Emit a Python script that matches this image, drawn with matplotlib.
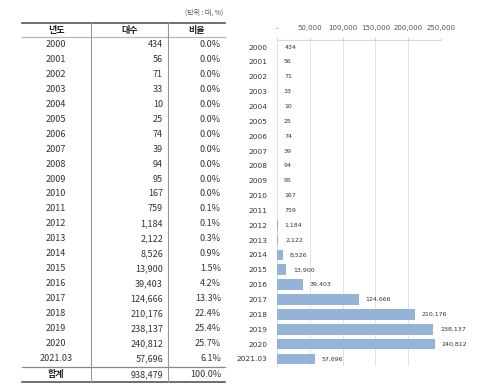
import matplotlib.pyplot as plt
from matplotlib.ticker import FuncFormatter

plt.rcParams['font.family'] = ['Noto Sans CJK KR', 'DejaVu Sans']

years = ['2000', '2001', '2002', '2003', '2004', '2005', '2006', '2007', '2008',
         '2009', '2010', '2011', '2012', '2013', '2014', '2015', '2016', '2017',
         '2018', '2019', '2020', '2021.03']
counts = [434, 56, 71, 33, 10, 25, 74, 39, 94, 95, 167, 759, 1184, 2122, 8526,
          13900, 39403, 124666, 210176, 238137, 240812, 57696]
shares = [0.0, 0.0, 0.0, 0.0, 0.0, 0.0, 0.0, 0.0, 0.0, 0.0, 0.0, 0.1, 0.1, 0.3,
          0.9, 1.5, 4.2, 13.3, 22.4, 25.4, 25.7, 6.1]
headers = ['년도', '대수', '비율']
total_label = '합계'
total_count = 938479
total_share = 100.0
xticks = [0, 50000, 100000, 150000, 200000, 250000]

W, H = 479, 391
fig = plt.figure(figsize=(W / 100, H / 100), dpi=100)

# ---- table (pixel coords) ----
tb = fig.add_axes([0, 0, 1, 1])
tb.set_xlim(0, W)
tb.set_ylim(H, 0)
tb.set_axis_off()

x_left, x_right = 22, 225
sep1, sep2 = 91, 168
x_year, x_cnt, x_pct = 56, 163, 221
y_top, y_head_line, y_tot_line, y_bot = 23, 37, 367, 382
row0, dy = 44.5, 14.95
fs = 6.5
tc = '#333333'

tb.text(223, 13, '(단위 : 대, %)', fontsize=5, color='#555555', ha='right', va='center')
tb.plot([x_left, x_right], [y_top, y_top], color='#555555', lw=1.2)
tb.plot([x_left, x_right], [y_head_line, y_head_line], color='#b8b8b8', lw=0.9)
tb.plot([x_left, x_right], [y_tot_line, y_tot_line], color='#888888', lw=0.9)
tb.plot([x_left, x_right], [y_bot, y_bot], color='#555555', lw=1.2)
for sx in (sep1, sep2):
    tb.plot([sx, sx], [y_top, y_bot], color='#999999', lw=0.8)

hy = 30
tb.text(x_year, hy, headers[0], fontsize=fs, fontweight='bold', ha='center', va='center', color='#222222')
tb.text((sep1 + sep2) / 2, hy, headers[1], fontsize=fs, fontweight='bold', ha='center', va='center', color='#222222')
tb.text(197, hy, headers[2], fontsize=fs, fontweight='bold', ha='center', va='center', color='#222222')

for i, (yr, c, s) in enumerate(zip(years, counts, shares)):
    y = row0 + i * dy
    tb.text(x_year, y, yr, fontsize=fs, ha='center', va='center', color=tc)
    tb.text(x_cnt, y, f'{c:,}', fontsize=fs, ha='right', va='center', color=tc)
    tb.text(x_pct, y, f'{s:.1f}%', fontsize=fs, ha='right', va='center', color=tc)

ty = 374.5
tb.text(x_year, ty, total_label, fontsize=fs, fontweight='bold', ha='center', va='center', color='#222222')
tb.text(x_cnt, ty, f'{total_count:,}', fontsize=fs, ha='right', va='center', color=tc)
tb.text(x_pct, ty, f'{total_share:.1f}%', fontsize=fs, ha='right', va='center', color=tc)

# ---- bar chart ----
ax = fig.add_axes([277 / W, (H - 366.4) / H, 164 / W, 326.8 / H])
pos = list(range(len(years)))
ax.barh(pos, counts, height=0.72, color='#95b3d7', zorder=3)
ax.set_xlim(0, 250000)
ax.set_ylim(len(years) - 0.5, -0.5)
ax.set_yticks(pos)
ax.set_yticklabels(years, fontsize=5.3, color='#333333', family='DejaVu Sans')
ax.set_xticks(xticks)
ax.xaxis.set_major_formatter(FuncFormatter(lambda v, p: '-' if v == 0 else f'{int(v):,}'))
ax.xaxis.tick_top()
ax.tick_params(axis='x', labelsize=5, colors='#555555', length=2, color='#d9d9d9', pad=4)
ax.tick_params(axis='y', length=0, pad=7)
for lbl in ax.get_xticklabels():
    lbl.set_family('DejaVu Sans')
ax.grid(axis='x', color='#e3e3e3', lw=0.7, zorder=0)
for side in ('right', 'bottom'):
    ax.spines[side].set_visible(False)
ax.spines['top'].set_color('#d9d9d9')
ax.spines['left'].set_color('#d9e1ee')
ax.spines['left'].set_linewidth(0.8)
for p, c in zip(pos, counts):
    ax.annotate(f'{c:,}', (c, p), xytext=(5, 0), textcoords='offset points',
                fontsize=4.5, va='center', ha='left', color='#333333', family='DejaVu Sans')

fig.savefig('out.png', dpi=100)
